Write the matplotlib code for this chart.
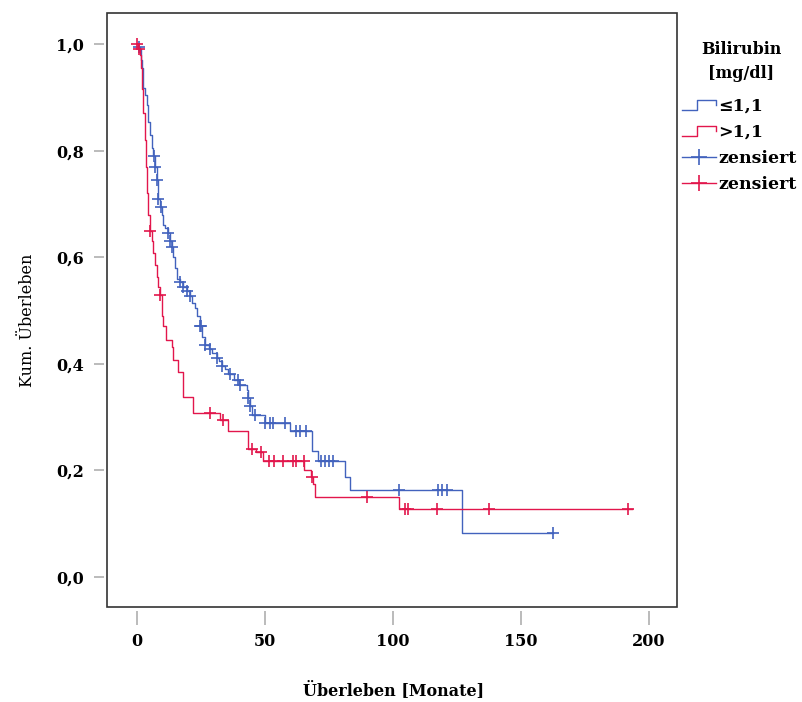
import numpy as np
import matplotlib
matplotlib.use('Agg')
import matplotlib.pyplot as plt
from matplotlib.lines import Line2D
from matplotlib.legend_handler import HandlerBase
from matplotlib.patches import Rectangle

# Kaplan-Meier steps (months, cumulative survival)
blue_times = [0, 0.5, 1.0, 1.5, 1.8, 2.2, 2.5, 3.0, 3.8, 4.4, 5.0, 5.7, 6.3, 7.0, 7.7,
              8.3, 9.0, 9.6, 10.3, 11.0, 12.2, 12.9, 13.5, 14.2, 14.8, 15.5, 16.8,
              18.1, 19.4, 20.7, 21.5, 22.7, 23.5, 24.6, 25.3, 26.6, 28.0, 29.5, 31.1,
              32.0, 33.1, 34.5, 35.7, 38.0, 40.0, 43.0, 43.5, 44.1, 44.8, 50.0, 59.8,
              68.2, 70.8, 81.3, 83.2, 126.8]
blue_surv = [1.0, 0.995, 0.99, 0.97, 0.955, 0.935, 0.917, 0.905, 0.886, 0.854, 0.83,
             0.804, 0.79, 0.77, 0.745, 0.71, 0.695, 0.68, 0.66, 0.655, 0.645, 0.63,
             0.62, 0.60, 0.58, 0.56, 0.553, 0.545, 0.537, 0.528, 0.515, 0.505, 0.49,
             0.47, 0.45, 0.435, 0.428, 0.42, 0.41, 0.405, 0.396, 0.39, 0.38, 0.37,
             0.36, 0.35, 0.335, 0.32, 0.304, 0.288, 0.273, 0.236, 0.218, 0.188, 0.163,
             0.082]
blue_end = 162.5
blue_cens = [0.9, 6.5, 7.0, 7.7, 8.3, 9.4, 12.2, 12.9, 13.5, 16.8, 18.1, 19.4, 20.7,
             24.6, 25.0, 26.6, 28.5, 31.1, 33.1, 36.3, 39.5, 40.2, 43.5, 44.1, 46.0,
             50.0, 52.0, 53.1, 57.8, 62.3, 63.7, 66.2, 71.7, 73.4, 75.0, 76.6, 102.3,
             117.6, 119.0, 121.0, 162.5]

red_times = [0, 0.5, 1.0, 1.5, 2.0, 2.5, 3.0, 3.5, 4.0, 4.4, 5.0, 5.7, 6.4, 7.0, 7.7,
             8.4, 8.9, 9.8, 10.3, 11.4, 13.5, 14.2, 16.1, 18.0, 22.0, 32.4, 35.4, 43.4,
             46.4, 49.3, 65.3, 68.1, 68.7, 69.5, 102.5]
red_surv = [1.0, 0.99, 0.98, 0.955, 0.915, 0.87, 0.82, 0.77, 0.72, 0.68, 0.65, 0.63,
            0.608, 0.585, 0.563, 0.545, 0.53, 0.49, 0.47, 0.445, 0.432, 0.407, 0.385,
            0.338, 0.307, 0.295, 0.273, 0.241, 0.235, 0.217, 0.2, 0.188, 0.175, 0.151,
            0.128]
red_end = 193.5
red_cens = [0.0, 0.9, 5.1, 9.0, 28.5, 33.5, 44.9, 48.4, 51.6, 53.5, 56.9, 60.8, 62.1,
            65.2, 68.3, 89.7, 104.7, 105.9, 117.2, 137.5, 191.8]

x_ticks = [0, 50, 100, 150, 200]
y_ticks = [0.0, 0.2, 0.4, 0.6, 0.8, 1.0]
y_tick_labels = ['0,0', '0,2', '0,4', '0,6', '0,8', '1,0']

blue = '#4262bd'
red = '#e2164c'

plt.rcParams['font.family'] = ['DejaVu Serif']


def surv_at(times, surv, t):
    idx = np.searchsorted(times, t, side='right') - 1
    return np.asarray(surv)[idx]


class HandlerStep(HandlerBase):
    def create_artists(self, legend, orig_handle, xdescent, ydescent, width, height,
                       fontsize, trans):
        x0 = -xdescent
        y0 = -ydescent
        xs = [x0, x0 + 0.45 * width, x0 + 0.45 * width, x0 + width, x0 + width]
        ys = [y0 + 0.05 * height, y0 + 0.05 * height, y0 + 0.9 * height,
              y0 + 0.9 * height, y0 + 0.5 * height]
        ln = Line2D(xs, ys, color=orig_handle.get_color(), lw=1.0, transform=trans)
        return [ln]


fig = plt.figure(figsize=(8.03, 7.02), dpi=100)
ax = fig.add_axes([107 / 803, 1 - 607 / 702, 570 / 803, 594 / 702])

for times, surv, end, cens, col in [(blue_times, blue_surv, blue_end, blue_cens, blue),
                                    (red_times, red_surv, red_end, red_cens, red)]:
    ax.step(np.r_[times, end], np.r_[surv, surv[-1]], where='post', color=col, lw=1.0)
    ax.plot(cens, surv_at(times, surv, cens), ls='none', marker='+', ms=8.5,
            mew=1.2, color=col)

ax.set_xlim(-11.7, 210.9)
ax.set_ylim(-0.0563, 1.0582)
ax.set_xticks(x_ticks)
ax.set_yticks(y_ticks)
ax.set_yticklabels(y_tick_labels)

for s in ax.spines.values():
    s.set_visible(False)
ax.spines['left'].set_position(('outward', 2.5))
ax.spines['bottom'].set_position(('outward', 3))
ax.add_patch(Rectangle((0, 0), 1, 1, transform=ax.transAxes, fill=False,
                       ec='#333333', lw=1.2, clip_on=False, zorder=5))
ax.tick_params(axis='y', length=7.5, width=1.3, color='#b5b5b5', pad=6.5,
               labelsize=11.5)
ax.tick_params(axis='x', length=10, width=1.3, color='#b5b5b5', pad=6,
               labelsize=11.5)
for lab in ax.get_xticklabels() + ax.get_yticklabels():
    lab.set_fontweight('bold')

ax.set_xlabel('Überleben [Monate]', fontsize=11.5, fontweight='bold')
ax.set_ylabel('Kum. Überleben', fontsize=11.5)
ax.xaxis.set_label_coords(0.502, -0.125)
ax.yaxis.set_label_coords(-0.125, 0.483)

# legend title as two centred lines, then the entries below
fig.text(741 / 803, 1 - 50 / 702, 'Bilirubin', ha='center', va='center',
         fontsize=11.5, fontweight='bold')
fig.text(741 / 803, 1 - 73 / 702, '[mg/dl]', ha='center', va='center',
         fontsize=11.5, fontweight='bold')

handles = [Line2D([], [], color=blue), Line2D([], [], color=red),
           Line2D([], [], color=blue, marker='+', ms=12, mew=1.2, lw=1.0),
           Line2D([], [], color=red, marker='+', ms=12, mew=1.2, lw=1.0)]
labels = ['≤1,1', '>1,1', 'zensiert', 'zensiert']
leg = fig.legend(handles, labels, loc='upper left',
                 bbox_to_anchor=(680 / 803, 1 - 96 / 702), frameon=False,
                 handler_map={handles[0]: HandlerStep(), handles[1]: HandlerStep()},
                 prop={'weight': 'bold', 'size': 12.5},
                 handlelength=2.0, handletextpad=0.12, labelspacing=0.52,
                 borderaxespad=0, borderpad=0.1, numpoints=1)

fig.savefig('out.png', dpi=100)
